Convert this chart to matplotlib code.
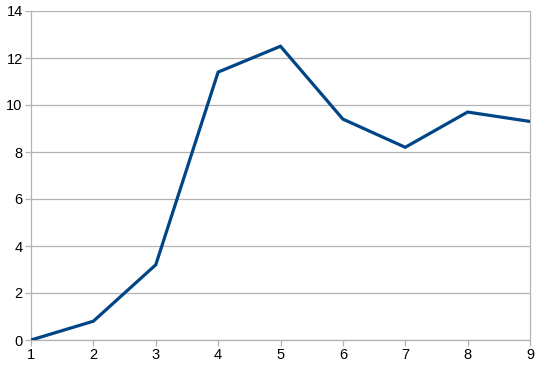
# Line chart recreated from a LibreOffice style screenshot

import numpy as np
import matplotlib.pyplot as plt

# values
x_vals = [1, 2, 3, 4, 5, 6, 7, 8, 9]
y_vals = [0.0, 0.8, 3.2, 11.4, 12.5, 9.4, 8.2, 9.7, 9.3]
y_ticks = [0, 2, 4, 6, 8, 10, 12, 14]

plt.rcParams['font.family'] = ['Liberation Sans', 'DejaVu Sans']

fig = plt.figure(figsize=(5.39, 3.69), dpi=100)
ax = fig.add_axes([31/539, 29/369, 499/539, 329/369])

ax.plot(x_vals, y_vals, color='#004586', linewidth=2.3, solid_joinstyle='miter', zorder=3)

ax.set_xlim(1, 9)
ax.set_ylim(0, 14)
ax.set_xticks(x_vals)
ax.set_yticks(y_ticks)
# only horizontal gridlines in the original
ax.grid(True, axis='y', color='#b3b3b3', linewidth=0.9)
ax.set_axisbelow(True)

for side in ['left', 'right', 'top', 'bottom']:
    ax.spines[side].set_color('#b3b3b3')
    ax.spines[side].set_linewidth(0.9)
ax.spines['top'].set_visible(False)

ax.tick_params(axis='both', colors='#b3b3b3', labelcolor='black', labelsize=10.5,
               length=4, width=0.9, direction='out', pad=2)

fig.savefig('out.png', dpi=100)
